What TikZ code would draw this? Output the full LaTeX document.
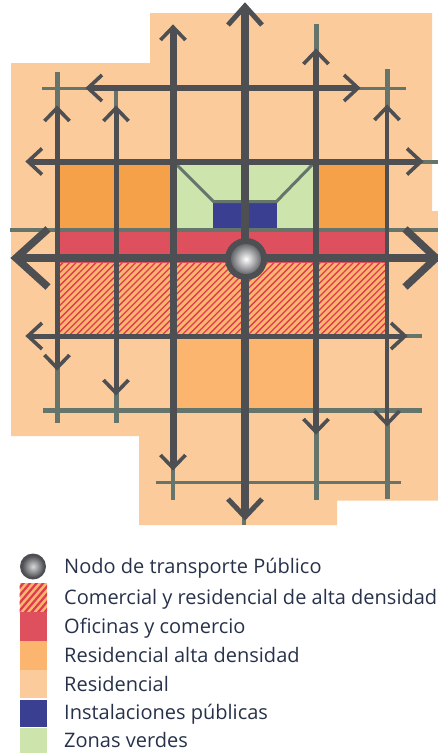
\documentclass[tikz,border=0pt]{standalone}
\usepackage{fontspec}
\setmainfont{Open Sans}
\definecolor{peach}{HTML}{FBCB9B}
\definecolor{orangeA}{HTML}{F5A149}
\definecolor{orangeB}{HTML}{FBB56F}
\definecolor{redz}{HTML}{DF505F}
\definecolor{hatchred}{HTML}{E03A50}
\definecolor{bluez}{HTML}{3B3F92}
\definecolor{greenz}{HTML}{CDE4AC}
\definecolor{darkroad}{HTML}{4D4F53}
\definecolor{grayroad}{HTML}{66756C}
\definecolor{legtext}{HTML}{27324A}
\tikzset{
  gr/.style={draw=grayroad,line width=#1},
  gr/.default=4,
  dk/.style={draw=darkroad,line width=#1},
  dk/.default=5,
  head/.style={draw=darkroad,line width=3.6pt,line cap=butt,line join=miter,miter limit=4},
  bighead/.style={draw=darkroad,line width=5pt,line join=miter},
  legend/.style={anchor=base west,text=legtext,font=\fontsize{20}{24}\selectfont,inner sep=0pt},
  pics/cu/.style={code={\draw[head] (-12.5,13)--(0,0)--(12.5,13);}},
  pics/cd/.style={code={\draw[head] (-12.5,-13)--(0,0)--(12.5,-13);}},
  pics/cl/.style={code={\draw[head] (14,-13)--(0,0)--(14,13);}},
  pics/cr/.style={code={\draw[head] (-14,-13)--(0,0)--(-14,13);}},
}
\begin{document}
\begin{tikzpicture}[x=1pt,y=-1pt]
\useasboundingbox (0,0) rectangle (438,753);
% residential ground
\fill[peach] (11,63)--(150,63)--(150,13)--(432,13)--(432,211)--(438,211)--(438,500.5)--(337,500.5)--(337,525)--(139,525)--(139,436)--(11,436)--cycle;
% zones
\fill[orangeA] (59,165) rectangle (173,229);
\fill[orangeA] (316,165) rectangle (386,229);
\fill[greenz] (176,165) rectangle (316,229);
\fill[bluez] (213,203) rectangle (277,229);
\fill[redz] (59,231) rectangle (386,263);
\fill[orangeB] (59,263) rectangle (386,334);
\begin{scope}
\clip (59,263) rectangle (386,334);
\foreach \i in {0,6.6,...,420} {\draw[hatchred,line width=1.3pt] ({59+\i-80},340)--({59+\i},260);}
\end{scope}
\fill[orangeB] (173,338) rectangle (316,408);
% grey streets
\draw[gr=3] (42,88)--(90,88);
\draw[gr=3] (356,88)--(406,88);
\draw[gr=4] (419,161.5)--(438,161.5);
\draw[gr=3.4] (10,230)--(438,230);
\draw[gr=4] (403,336)--(422,336);
\draw[gr=5] (43,410)--(422,410);
\draw[gr=3.4] (156,482.5)--(401,482.5);
\draw[gr=5] (57,72)--(57,110);
\draw[gr=4.5] (116,90)--(116,110);
\draw[gr=5] (316,24)--(316,53);
\draw[gr=5] (387,69)--(387,109);
\draw[gr=5] (57,366)--(57,423);
\draw[gr=5] (116,391)--(116,423);
\draw[gr=4.5] (173,466)--(173,500);
\draw[gr=3.5] (244,516)--(244,525);
\draw[gr=5] (316,430)--(316,500);
\draw[gr=5] (387,422)--(387,499);
\draw[gr=3] (176,164)--(213.5,201.5)--(276.5,201.5)--(313,164);
% dark streets
\draw[dk=6] (90,88)--(356,88);
\draw[dk=6] (30,161.5)--(419,161.5);
\draw[dk=5] (30,336)--(403,336);
\draw[dk=5] (57,110)--(57,366);
\draw[dk=5] (116,110)--(116,391);
\draw[dk=7] (173,29)--(173,466);
\draw[dk=7.5] (245,8)--(245,516);
\draw[dk=6] (316,53)--(316,430);
\draw[dk=4.5] (387,109)--(387,422);
\draw[dk=8] (16,258)--(438,258);
% arrow heads
\pic at (57,108) {cu};
\pic at (116,108) {cu};
\pic at (173,27) {cu};
\pic at (316,51) {cu};
\pic at (387,107) {cu};
\pic at (57,368) {cd};
\pic at (116,393) {cd};
\pic at (173,468) {cd};
\pic at (316,432) {cd};
\pic at (387,424) {cd};
\pic at (88,88) {cl};
\pic at (28,161.5) {cl};
\pic at (28,336) {cl};
\pic at (358,88) {cr};
\pic at (421,161.5) {cr};
\pic at (405,336) {cr};
\draw[bighead] (228,25)--(245,6)--(262,25);
\draw[bighead] (228,499)--(245,517)--(262,499);
\draw[draw=darkroad,line width=7.5pt,line join=miter] (48,229)--(16,258)--(48,287);
\draw[draw=darkroad,line width=7.5pt,line join=miter] (405,229)--(436,258)--(405,287);
% transport node
\fill[darkroad] (246,259) circle (21);
\shade[inner color=white,outer color=darkroad!85] (246,259) circle (15);
% legend
\fill[darkroad] (33,566.5) circle (13);
\shade[inner color=white!85!black,outer color=darkroad] (33,566.5) circle (11);
\fill[orangeB] (19.5,583) rectangle (47,612);
\begin{scope}
\clip (19.5,583) rectangle (47,612);
\foreach \i in {0,6.6,...,66} {\draw[hatchred,line width=2.2pt] ({19.5+\i-30},615)--({19.5+\i},580);}
\end{scope}
\fill[redz] (19.5,612) rectangle (47,641);
\fill[orangeB] (19.5,641) rectangle (47,669.5);
\fill[peach] (19.5,669.5) rectangle (47,698);
\fill[bluez] (19.5,699.5) rectangle (47,727);
\fill[greenz] (19.5,728) rectangle (47,753);
\node[legend] (t1) at (64,573) {Nodo de transporte Público};
\node[legend] (t2) at (64,604) {Comercial y residencial de alta densidad};
\node[legend] (t3) at (64,633) {Oficinas y comercio};
\node[legend] (t4) at (64,662) {Residencial alta densidad};
\node[legend] (t5) at (64,691) {Residencial};
\node[legend] (t6) at (64,719) {Instalaciones públicas};
\node[legend] (t7) at (64,747) {Zonas verdes};
\end{tikzpicture}
\end{document}
